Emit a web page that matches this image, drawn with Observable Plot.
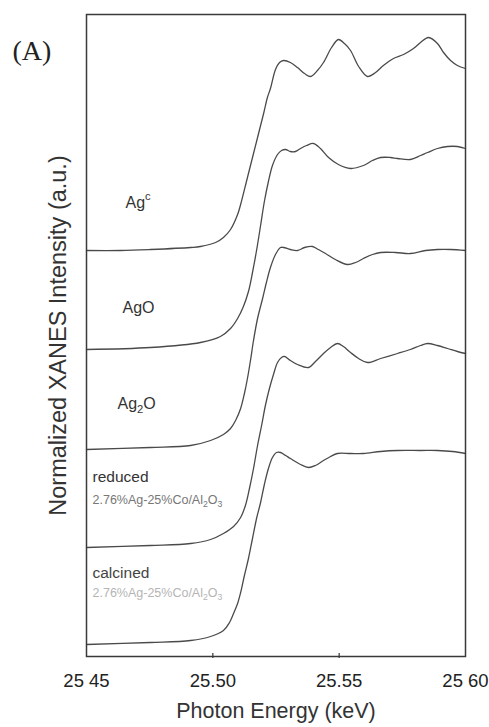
<!DOCTYPE html>
<html><head><meta charset="utf-8">
<script src="https://cdn.jsdelivr.net/npm/d3@7"></script>
<script src="https://cdn.jsdelivr.net/npm/@observablehq/plot@0.6"></script>
<style>body{margin:0;background:#fff} #chart{width:489px;height:727px}</style>
</head><body><div id="chart"></div>
<script>
// Series (top to bottom) and their vertical offsets (a.u.)
const seriesNames = ["Ag0", "AgO", "Ag2O", "reduced", "calcined"];
const offsets = [4.06, 3.07, 2.07, 1.09, 0.12];

const energyAg0 = [25.4500, 25.4635, 25.4753, 25.4912, 25.4951, 25.5011, 25.5042, 25.5070, 25.5098, 25.5110, 25.5137, 25.5177, 25.5201, 25.5216, 25.5228, 25.5248, 25.5264, 25.5280, 25.5307, 25.5335, 25.5363, 25.5387, 25.5414, 25.5438, 25.5470, 25.5497, 25.5521, 25.5545, 25.5577, 25.5612, 25.5644, 25.5675, 25.5715, 25.5755, 25.5794, 25.5822, 25.5854, 25.5889, 25.5913, 25.5941, 25.5968, 25.6000];
const intensityAg0 = [0, 0, 0.01, 0.03, 0.04, 0.08, 0.13, 0.21, 0.36, 0.46, 0.73, 1.13, 1.37, 1.53, 1.62, 1.81, 1.88, 1.90, 1.88, 1.83, 1.77, 1.74, 1.80, 1.88, 2.03, 2.11, 2.07, 2.00, 1.84, 1.74, 1.78, 1.85, 1.92, 1.96, 2.02, 2.08, 2.13, 2.07, 1.98, 1.90, 1.85, 1.82];

const energyAgO = [25.4500, 25.4753, 25.4951, 25.5030, 25.5070, 25.5098, 25.5121, 25.5141, 25.5157, 25.5173, 25.5189, 25.5204, 25.5220, 25.5236, 25.5256, 25.5272, 25.5288, 25.5307, 25.5327, 25.5347, 25.5371, 25.5398, 25.5426, 25.5458, 25.5497, 25.5545, 25.5596, 25.5632, 25.5664, 25.5703, 25.5731, 25.5782, 25.5822, 25.5850, 25.5889, 25.5929, 25.5968, 25.6000];
const intensityAgO = [0, 0.02, 0.07, 0.13, 0.21, 0.31, 0.43, 0.58, 0.77, 0.99, 1.24, 1.48, 1.68, 1.84, 1.95, 1.99, 2.00, 1.98, 1.98, 2.01, 2.04, 2.06, 2.01, 1.92, 1.85, 1.81, 1.84, 1.89, 1.92, 1.92, 1.91, 1.90, 1.94, 1.97, 2.01, 2.03, 2.03, 2.01];

const energyAg2O = [25.4500, 25.4753, 25.4912, 25.4991, 25.5042, 25.5070, 25.5090, 25.5110, 25.5125, 25.5137, 25.5149, 25.5161, 25.5177, 25.5197, 25.5212, 25.5228, 25.5248, 25.5268, 25.5280, 25.5307, 25.5335, 25.5363, 25.5394, 25.5418, 25.5446, 25.5485, 25.5533, 25.5565, 25.5596, 25.5632, 25.5664, 25.5723, 25.5782, 25.5842, 25.5889, 25.5941, 25.6000];
const intensityAg2O = [0, 0.02, 0.04, 0.09, 0.15, 0.21, 0.29, 0.41, 0.56, 0.71, 0.89, 1.09, 1.31, 1.51, 1.67, 1.82, 1.95, 2.02, 2.02, 2.00, 1.99, 2.02, 2.03, 2.00, 1.96, 1.90, 1.85, 1.87, 1.91, 1.95, 1.97, 1.97, 1.96, 1.99, 2.00, 2.00, 1.99];

const energyReduced = [25.4500, 25.4753, 25.4912, 25.4991, 25.5042, 25.5082, 25.5110, 25.5129, 25.5145, 25.5161, 25.5177, 25.5193, 25.5208, 25.5224, 25.5240, 25.5256, 25.5272, 25.5284, 25.5307, 25.5335, 25.5379, 25.5406, 25.5438, 25.5466, 25.5493, 25.5517, 25.5545, 25.5577, 25.5612, 25.5664, 25.5731, 25.5782, 25.5822, 25.5850, 25.5889, 25.5929, 25.5968, 25.6000];
const intensityReduced = [0, 0.02, 0.04, 0.08, 0.14, 0.21, 0.30, 0.42, 0.59, 0.79, 1.02, 1.22, 1.42, 1.59, 1.73, 1.85, 1.90, 1.91, 1.87, 1.83, 1.80, 1.86, 1.94, 2.00, 2.04, 2.01, 1.95, 1.89, 1.85, 1.89, 1.94, 1.98, 2.02, 2.04, 2.02, 1.99, 1.96, 1.94];

const energyCalcined = [25.4500, 25.4753, 25.4912, 25.4991, 25.5042, 25.5066, 25.5082, 25.5098, 25.5110, 25.5125, 25.5141, 25.5157, 25.5173, 25.5189, 25.5204, 25.5220, 25.5236, 25.5252, 25.5268, 25.5288, 25.5307, 25.5347, 25.5379, 25.5406, 25.5438, 25.5466, 25.5493, 25.5545, 25.5596, 25.5664, 25.5731, 25.5822, 25.5889, 25.5949, 25.6000];
const intensityCalcined = [0, 0.02, 0.04, 0.08, 0.14, 0.22, 0.31, 0.41, 0.52, 0.69, 0.86, 1.06, 1.26, 1.42, 1.60, 1.76, 1.87, 1.92, 1.92, 1.89, 1.86, 1.80, 1.77, 1.79, 1.84, 1.88, 1.91, 1.91, 1.91, 1.93, 1.94, 1.94, 1.94, 1.93, 1.91];

const tickValues = [25.45, 25.50, 25.55, 25.60];
const tickLabels = ["25 45", "25.50", "25.55", "25 60"];
const innerTicks = [25.50, 25.55];

const labelTexts = ["Ag^{c}", "AgO", "Ag_{2}O", "reduced", "calcined"];
const sampleText = "2.76%Ag-25%Co/Al_{2}O_{3}";

const pairs = [[energyAg0, intensityAg0], [energyAgO, intensityAgO], [energyAg2O, intensityAg2O], [energyReduced, intensityReduced], [energyCalcined, intensityCalcined]];
const rows = [];
pairs.forEach(([E, I], k) => E.forEach((e, i) => rows.push({series: seriesNames[k], energy: e, intensity: I[i] + offsets[k]})));

const sans = "'Liberation Sans', Arial, Helvetica, sans-serif";
function label(k, text, dx, dy, size, fill) {
  return Plot.text([offsets[k]], {y: d => d, frameAnchor: "left", text: () => text, dx, dy, fontSize: size, fill, textAnchor: "start", fontFamily: sans});
}

const chart = Plot.plot({
  width: 489, height: 727,
  marginLeft: 86, marginRight: 24, marginTop: 14, marginBottom: 71,
  x: {domain: [25.45, 25.60]},
  y: {domain: [0, 6.42]},
  style: {fontFamily: sans, background: "white", color: "#333", overflow: "visible"},
  marks: [
    Plot.axisY({ticks: [], label: null}),
    Plot.axisX(innerTicks, {tickSize: 5, dy: -3, tickFormat: () => "", stroke: "#444", strokeWidth: 1.3, label: null}),
    Plot.axisX(tickValues, {tickSize: 0, tickPadding: 17, tickFormat: d => tickLabels[tickValues.indexOf(d)], fontSize: 18.5, fill: "#222", label: null}),
    Plot.line(rows, {x: "energy", y: "intensity", z: "series", curve: "catmull-rom", stroke: "#4a4a4a", strokeWidth: 1.3}),
    Plot.frame({stroke: "#3a3a3a", strokeWidth: 1.5}),
    label(0, labelTexts[0], 39, -48, 16, "#333"),
    label(1, labelTexts[1], 36, -42, 16, "#333"),
    label(2, labelTexts[2], 31, -46, 16, "#333"),
    label(3, labelTexts[3], 6, -70, 15.5, "#333"),
    label(3, sampleText, 6, -48, 12.5, "#777"),
    label(4, labelTexts[4], 6, -71, 15.5, "#444"),
    label(4, sampleText, 6, -52, 12.5, "#b5b5b5"),
    Plot.text(["Normalized XANES Intensity (a.u.)"], {frameAnchor: "left", textAnchor: "middle", rotate: -90, dx: -28, fontSize: 23.5, fill: "#333", fontFamily: sans}),
    Plot.text(["Photon Energy (keV)"], {frameAnchor: "bottom", textAnchor: "middle", dy: 61, fontSize: 21.5, fill: "#333", fontFamily: sans}),
    Plot.text(["(A)"], {frameAnchor: "top-left", dx: -74, dy: 26, textAnchor: "start", fontSize: 28, fill: "#222", fontFamily: "'Liberation Serif', 'Times New Roman', serif"})
  ]
});

// Turn _{x} / ^{x} markup into real sub/superscript tspans
d3.select(chart).selectAll("text").each(function() {
  const s = this.textContent;
  if (!/[_^]\{/.test(s)) return;
  const t = d3.select(this);
  t.text(null);
  const re = /([_^])\{([^}]*)\}|([^_^]+)/g;
  let m, shift = 0;
  while ((m = re.exec(s))) {
    if (m[3] !== undefined) {
      const ts = t.append("tspan").text(m[3]);
      if (shift) { ts.attr("dy", (-shift) + "em"); shift = 0; }
    } else {
      const d = m[1] === "_" ? 0.3 : -0.45;
      const ts = t.append("tspan").attr("font-size", "70%").text(m[2]);
      ts.attr("dy", ((d - shift) / 0.7).toFixed(3) + "em");
      shift = d;
    }
  }
});

document.getElementById("chart").appendChild(chart);
</script>
</body></html>
